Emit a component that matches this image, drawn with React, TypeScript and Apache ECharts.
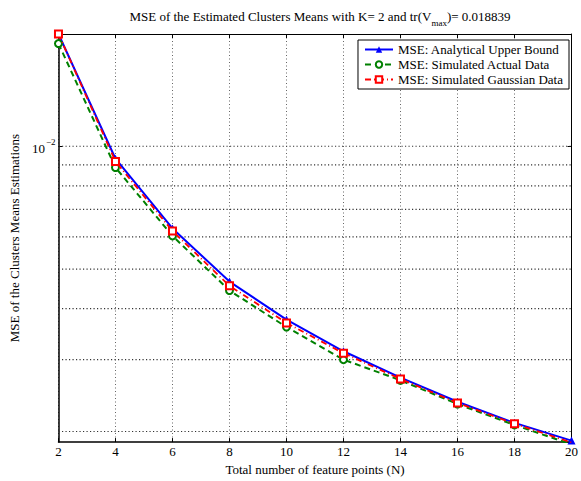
import React, { useEffect, useRef } from "react";
import * as echarts from "echarts";

const featurePoints = [2, 4, 6, 8, 10, 12, 14, 16, 18, 20];
const analyticalBound = [0.01884, 0.00932, 0.00629, 0.00466, 0.00376, 0.003145, 0.00271, 0.002365, 0.0021, 0.0019];
const simulatedActual = [0.01785, 0.00887, 0.00603, 0.00443, 0.003605, 0.003, 0.00267, 0.002335, 0.002075, 0.00186];
const simulatedGaussian = [0.01884, 0.00918, 0.0062, 0.00455, 0.00369, 0.00311, 0.00269, 0.00235, 0.00209, 0.00188];
const yGridValues = [0.002, 0.003, 0.004, 0.005, 0.006, 0.007, 0.008, 0.009, 0.01];
const yMin = 0.0018839;
const yMax = 0.018839;
const xMin = 2;
const xMax = 20;

const FONT = "'Liberation Serif', 'Times New Roman', serif";
const FS = 13;
const GRID_STYLE = { color: "#666", type: [1, 2.5], width: 1 };
const HGRID_STYLE = { color: "#333", type: [1.2, 2.3], width: 1.2 };

export default function App() {
  const ref = useRef<HTMLDivElement>(null);
  useEffect(() => {
    if (!ref.current) return;
    document.body.style.margin = "0";
    const chart = echarts.init(ref.current, null, { renderer: "svg" });
    const pairs = (ys: number[]) => featurePoints.map((x, i) => [x, ys[i]]);
    const gridSeries = yGridValues.map((v) => ({
      type: "line",
      silent: true,
      data: [
        [xMin, v],
        [xMax, v],
      ],
      showSymbol: false,
      symbol: "none",
      z: 1,
      lineStyle: HGRID_STYLE,
      tooltip: { show: false },
    }));
    chart.setOption({
      animation: false,
      backgroundColor: "#fff",
      textStyle: { fontFamily: FONT },
      title: {
        text: "MSE of the Estimated Clusters Means with K= 2 and tr(V{sub|max})= 0.018839",
        left: 315,
        textAlign: "center",
        top: 1,
        textStyle: {
          fontFamily: FONT,
          fontSize: FS,
          fontWeight: "normal",
          color: "#000",
          rich: {
            sub: { fontSize: 9, fontFamily: FONT, padding: [12, 0, 0, 0], color: "#000" },
          },
        },
      },
      legend: {
        orient: "vertical",
        right: 12,
        top: 40,
        itemWidth: 28,
        itemHeight: 8,
        itemGap: 2,
        padding: [3, 6, 3, 6],
        borderColor: "#000",
        borderWidth: 1,
        backgroundColor: "#fff",
        textStyle: { fontFamily: FONT, fontSize: FS, color: "#000" },
        data: [
          "MSE: Analytical Upper Bound",
          "MSE: Simulated Actual Data",
          "MSE: Simulated Gaussian Data",
        ],
      },
      grid: { left: 53, right: 8, top: 34, bottom: 32 },
      xAxis: [
        {
          type: "value",
          min: xMin,
          max: xMax,
          interval: 2,
          name: "Total number of feature points (N)",
          nameLocation: "middle",
          nameGap: 15,
          nameTextStyle: { fontFamily: FONT, fontSize: FS, color: "#000" },
          axisLine: { lineStyle: { color: "#000", width: 1.5 } },
          axisTick: { inside: true, length: 4, lineStyle: { color: "#000" } },
          axisLabel: { fontFamily: FONT, fontSize: FS, color: "#000", margin: 3 },
          splitLine: { show: true, lineStyle: GRID_STYLE },
        },
        {
          type: "value",
          position: "top",
          min: xMin,
          max: xMax,
          interval: 2,
          axisLine: { lineStyle: { color: "#000", width: 1 } },
          axisTick: { inside: true, length: 4, lineStyle: { color: "#000" } },
          axisLabel: { show: false },
          splitLine: { show: false },
        },
      ],
      yAxis: [
        {
          type: "log",
          logBase: 10,
          min: yMin,
          max: yMax,
          name: "MSE of the Clusters Means Estimations",
          nameLocation: "middle",
          nameGap: 33,
          nameTextStyle: { fontFamily: FONT, fontSize: FS, color: "#000" },
          axisLine: { lineStyle: { color: "#000", width: 1.5 } },
          axisTick: { inside: true, length: 4, lineStyle: { color: "#000" } },
          splitLine: { show: false },
          axisLabel: {
            showMinLabel: false,
            showMaxLabel: false,
            margin: 3,
            formatter: (v: number) =>
              Math.abs(Math.log10(v) + 2) < 1e-6 ? "{b|10}{s|−2}" : "",
            rich: {
              b: { fontFamily: FONT, fontSize: FS, color: "#000", verticalAlign: "bottom", lineHeight: 15 },
              s: { fontFamily: FONT, fontSize: 9, color: "#000", verticalAlign: "bottom", padding: [0, 0, 8, 1] },
            },
          },
        },
        {
          type: "log",
          logBase: 10,
          position: "right",
          min: yMin,
          max: yMax,
          axisLine: { lineStyle: { color: "#000", width: 1 } },
          axisTick: { inside: true, length: 4, lineStyle: { color: "#000" } },
          axisLabel: { show: false },
          splitLine: { show: false },
        },
      ],
      series: [
        ...gridSeries,
        {
          name: "MSE: Analytical Upper Bound",
          type: "line",
          data: pairs(analyticalBound),
          showSymbol: true,
          showAllSymbol: true,
          symbol: "triangle",
          symbolSize: 8,
          z: 3,
          lineStyle: { color: "#0000ff", width: 2 },
          itemStyle: { color: "#0000ff" },
        },
        {
          name: "MSE: Simulated Actual Data",
          type: "line",
          data: pairs(simulatedActual),
          showSymbol: true,
          showAllSymbol: true,
          symbol: "emptyCircle",
          symbolSize: 7,
          z: 4,
          lineStyle: { color: "#008000", width: 2, type: [6, 4] },
          itemStyle: { color: "#008000", borderColor: "#008000", borderWidth: 1.8 },
        },
        {
          name: "MSE: Simulated Gaussian Data",
          type: "line",
          data: pairs(simulatedGaussian),
          showSymbol: true,
          showAllSymbol: true,
          symbol: "emptyRect",
          symbolSize: 7,
          z: 5,
          lineStyle: { color: "#ff0000", width: 1.8, type: [6, 3, 1, 3] },
          itemStyle: { color: "#ff0000", borderColor: "#ff0000", borderWidth: 1.8 },
        },
      ],
    });
    return () => chart.dispose();
  }, []);
  return <div ref={ref} style={{ width: 581, height: 481 }} />;
}
